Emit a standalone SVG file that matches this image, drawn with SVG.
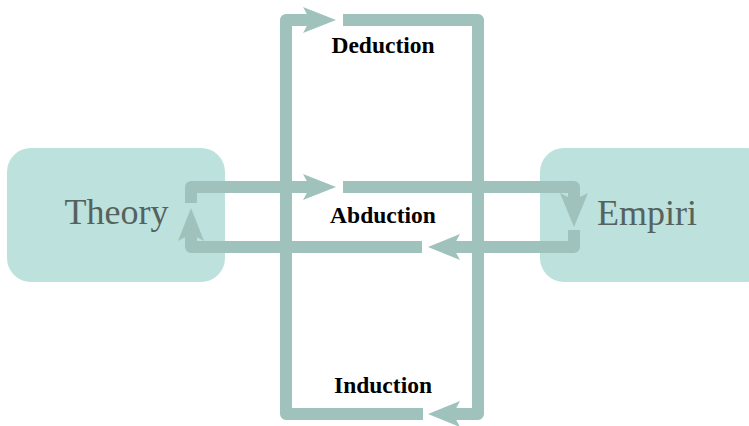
<svg xmlns="http://www.w3.org/2000/svg" width="749" height="426" viewBox="0 0 749 426">
<style>
.box{fill:#bde1dc}
.big{font-family:"Liberation Serif",serif;font-size:36px;fill:#55625e}
.lbl{font-family:"Liberation Serif",serif;font-size:23.5px;font-weight:bold;fill:#000;text-anchor:middle}
.ln{fill:none;stroke:#9fc3bc;stroke-width:12;stroke-linejoin:round}
.ah{fill:#9fc3bc}
</style>
<rect width="749" height="426" fill="#fff"/>
<g id="theory">
<rect class="box" x="7" y="148" width="218" height="134" rx="24"/>
<text class="big" x="116.5" y="224" text-anchor="middle">Theory</text>
</g>
<g id="empiri">
<rect class="box" x="540" y="148" width="230" height="134" rx="24"/>
<text class="big" x="597" y="225">Empiri</text>
</g>
<g id="connectors">
<path class="ln" d="M343 20 H478 V414 H450"/>
<polygon class="ah" points="428,414 460,401 453,414 460,427"/>
<path class="ln" d="M423 414 H286 V20 H313"/>
<polygon class="ah" points="336,20 303,7 310,20 303,33"/>
<path class="ln" d="M343 187 H574 V205"/>
<polygon class="ah" points="574,227 560,193 574,200 588,193"/>
<path class="ln" d="M574 230 V247 H450"/>
<polygon class="ah" points="428,247 460,234 453,247 460,260"/>
<path class="ln" d="M422 247 H191 V230"/>
<polygon class="ah" points="191,208 178,241 191,234 204,241"/>
<path class="ln" d="M191 203 V187 H313"/>
<polygon class="ah" points="336,187 303,174 310,187 303,200"/>
</g>
<g id="labels">
<text class="lbl" x="383" y="53">Deduction</text>
<text class="lbl" x="383" y="223">Abduction</text>
<text class="lbl" x="383" y="393">Induction</text>
</g>
</svg>
